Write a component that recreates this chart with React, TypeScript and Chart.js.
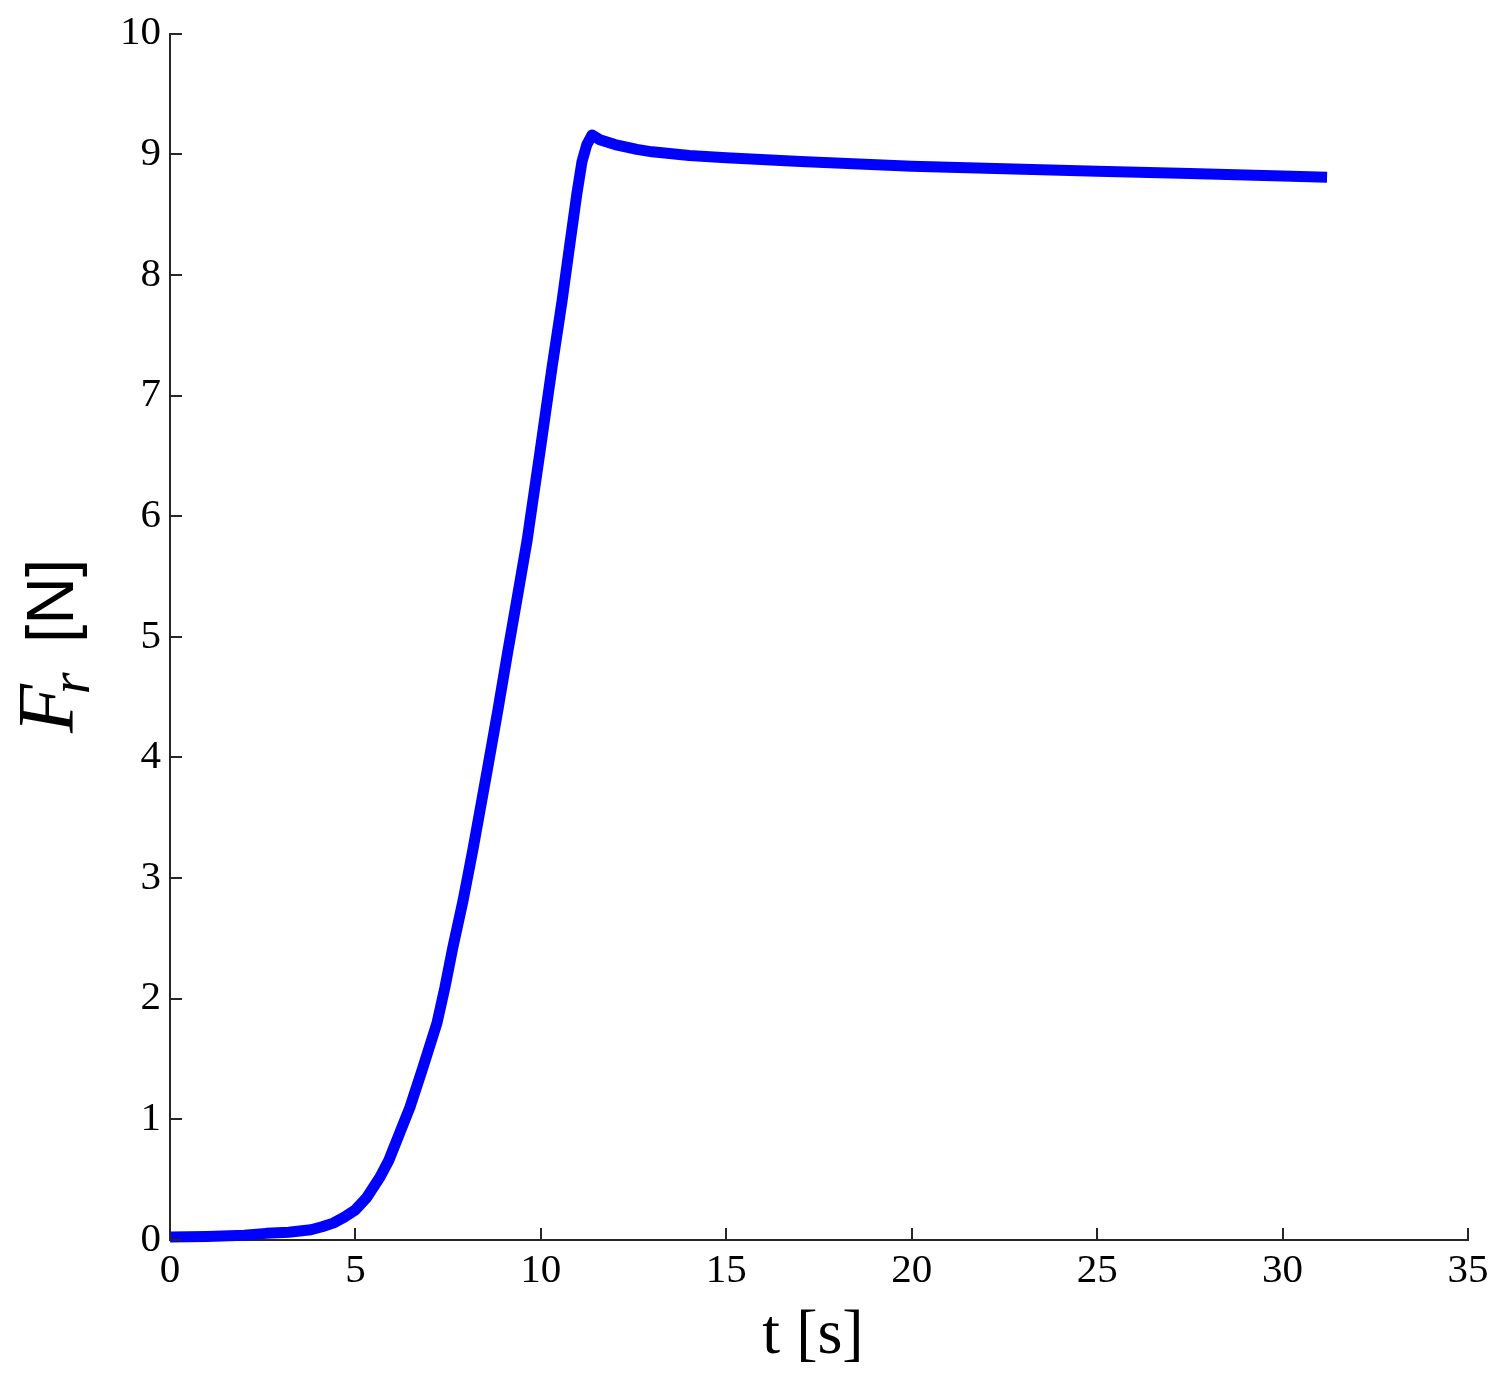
import React, { useEffect, useRef } from "react";
import { Chart, registerables } from "chart.js";

Chart.register(...registerables);

// Time [s]
const timeValues: number[] = [
  0, 1, 2, 2.6, 3.2, 3.5, 3.8, 4.1, 4.4, 4.7, 5.0, 5.3, 5.66, 5.9, 6.12, 6.47,
  6.82, 7.2, 7.41, 7.63, 7.9, 8.17, 8.57, 8.84, 9.11, 9.36, 9.63, 9.98, 10.3,
  10.57, 10.78, 10.97, 11.11, 11.24, 11.38, 11.59, 12.0, 12.59, 13, 14, 15, 17,
  20, 22.5, 25, 27.5, 30, 31.2,
];
// Force F_r [N]
const forceValues: number[] = [
  0.025, 0.03, 0.04, 0.055, 0.065, 0.075, 0.085, 0.11, 0.14, 0.19, 0.25, 0.35,
  0.52, 0.66, 0.83, 1.1, 1.43, 1.8, 2.09, 2.43, 2.81, 3.24, 3.92, 4.39, 4.88,
  5.32, 5.8, 6.54, 7.23, 7.78, 8.25, 8.67, 8.94, 9.08, 9.16, 9.12, 9.08, 9.04,
  9.02, 8.99, 8.97, 8.94, 8.9, 8.88, 8.86, 8.84, 8.82, 8.81,
];
const xTickValues: number[] = [0, 5, 10, 15, 20, 25, 30, 35];
const yTickValues: number[] = [0, 1, 2, 3, 4, 5, 6, 7, 8, 9, 10];
const xTitleText = "t [s]";
const yTitleMain = "F";
const yTitleSub = "r";
const yTitleUnit = "[N]";

const AXIS_COLOR = "#262626";
const SERIF = "'Liberation Serif', 'Times New Roman', serif";
const SANS = "'Liberation Sans', Arial, sans-serif";

const decorPlugin = {
  id: "decor",
  afterDraw(chart: any) {
    const ctx = chart.ctx as CanvasRenderingContext2D;
    const xs = chart.scales.x;
    const ys = chart.scales.y;
    const area = chart.chartArea;
    ctx.save();
    // inward tick marks
    ctx.strokeStyle = AXIS_COLOR;
    ctx.lineWidth = 2;
    ctx.beginPath();
    xTickValues.forEach((v) => {
      const px = Math.round(xs.getPixelForValue(v));
      ctx.moveTo(px, area.bottom);
      ctx.lineTo(px, area.bottom - 12);
    });
    yTickValues.forEach((v) => {
      const py = Math.round(ys.getPixelForValue(v));
      ctx.moveTo(area.left, py);
      ctx.lineTo(area.left + 12, py);
    });
    ctx.stroke();

    // x title
    ctx.fillStyle = "#000";
    ctx.font = `64px ${SERIF}`;
    ctx.textAlign = "center";
    ctx.textBaseline = "alphabetic";
    ctx.fillText(xTitleText, (area.left + area.right) / 2 - 6, 1353);

    // y title (rotated)
    ctx.translate(73, 733);
    ctx.rotate(-Math.PI / 2);
    ctx.textAlign = "left";
    ctx.font = `italic 80px ${SERIF}`;
    ctx.fillText(yTitleMain, 0, 0);
    const fw = ctx.measureText(yTitleMain).width;
    ctx.font = `italic 56px ${SERIF}`;
    ctx.fillText(yTitleSub, fw - 10, 16);
    ctx.font = `66px ${SANS}`;
    ctx.fillText(yTitleUnit, 90, 0);
    ctx.restore();
  },
};

export default function App() {
  const canvasRef = useRef<HTMLCanvasElement | null>(null);

  useEffect(() => {
    document.body.style.margin = "0";
    const canvas = canvasRef.current;
    if (!canvas) return;
    const chart = new Chart(canvas, {
      type: "line",
      data: {
        datasets: [
          {
            data: timeValues.map((t, i) => ({ x: t, y: forceValues[i] })),
            borderColor: "#0000FF",
            borderWidth: 11,
            pointRadius: 0,
            tension: 0,
            fill: false,
            borderJoinStyle: "round",
            clip: 8,
          },
        ],
      },
      plugins: [decorPlugin],
      options: {
        animation: false,
        responsive: false,
        devicePixelRatio: 1,
        layout: { padding: { left: 0, top: 32, right: 38, bottom: 0 } },
        plugins: {
          legend: { display: false },
          tooltip: { enabled: false },
          title: { display: false },
        },
        scales: {
          x: {
            type: "linear",
            min: 0,
            max: 35,
            afterFit: (s: any) => {
              s.height = 150;
            },
            afterBuildTicks: (s: any) => {
              s.ticks = xTickValues.map((v) => ({ value: v }));
            },
            grid: { display: false, drawTicks: false },
            border: { display: true, color: AXIS_COLOR, width: 2 },
            ticks: {
              color: "#000",
              padding: 7,
              maxRotation: 0,
              font: { family: SERIF, size: 41 },
            },
          },
          y: {
            type: "linear",
            min: 0,
            max: 10,
            afterFit: (s: any) => {
              s.width = 170;
            },
            afterBuildTicks: (s: any) => {
              s.ticks = yTickValues.map((v) => ({ value: v }));
            },
            grid: { display: false, drawTicks: false },
            border: { display: true, color: AXIS_COLOR, width: 2 },
            ticks: {
              color: "#000",
              padding: 9,
              font: { family: SERIF, size: 41 },
            },
          },
        },
      },
    } as any);
    return () => chart.destroy();
  }, []);

  return (
    <div style={{ width: 1506, height: 1390, background: "#fff" }}>
      <canvas ref={canvasRef} width={1506} height={1390} style={{ display: "block" }} />
    </div>
  );
}
